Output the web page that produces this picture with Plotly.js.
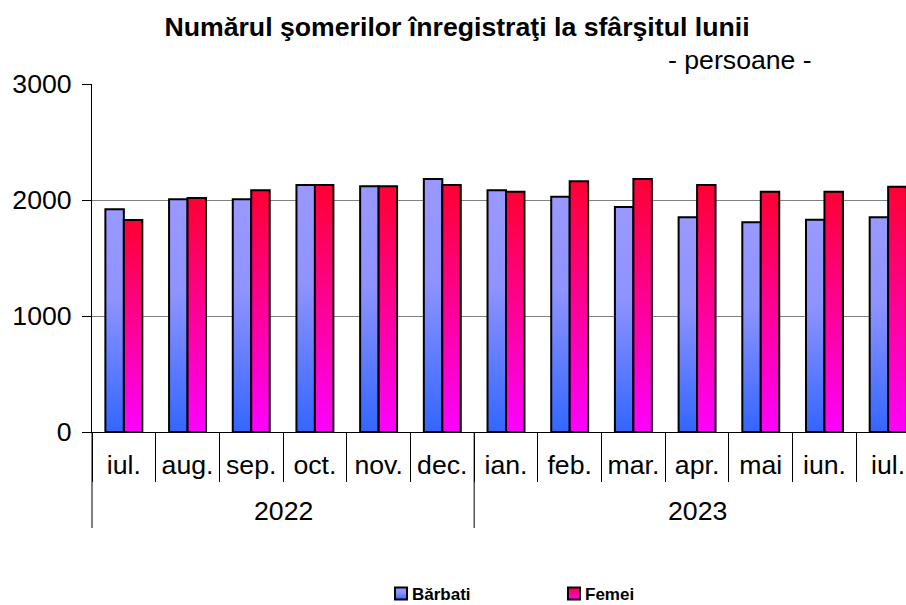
<!DOCTYPE html>
<html><head><meta charset="utf-8">
<script src="https://cdn.plot.ly/plotly-3.0.1.min.js"></script>
<style>
html,body{margin:0;padding:0;overflow:hidden;background:#fff;width:906px;height:605px}
#chart{width:940px;height:605px}
</style>
</head><body><div id="chart"></div>
<script>
// ---- data ----
const months = ['iul.','aug.','sep.','oct.','nov.','dec.','ian.','feb.','mar.','apr.','mai','iun.','iul.'];
const years  = ['2022','2022','2022','2022','2022','2022','2023','2023','2023','2023','2023','2023','2023'];
const barbati = [1920,2006,2006,2129,2118,2181,2084,2028,1940,1851,1808,1830,1851];
const femei   = [1828,2017,2084,2129,2118,2129,2072,2161,2181,2129,2072,2072,2115];
const seriesNames = ['Bărbati','Femei'];
const titleText = 'Numărul şomerilor înregistraţi la sfârşitul lunii';
const subtitleText = '- persoane -';
const yTicks = [0,1000,2000,3000];

const FONT = 'Liberation Sans, Arial, sans-serif';
const N = months.length;
const idx = months.map((_, i) => i);
const bounds = idx.map(i => i - 0.5).concat([N - 0.5]);

// year groups
const groups = [];
years.forEach((y, i) => {
  const g = groups[groups.length - 1];
  if (g && g.year === y) g.end = i; else groups.push({year: y, start: i, end: i});
});

const traces = [
  {type:'bar', name:seriesNames[0], x:idx, y:barbati,
   marker:{color:'#7f8cff', line:{color:'#000', width:2}}},
  {type:'bar', name:seriesNames[1], x:idx, y:femei,
   marker:{color:'#ff0099', line:{color:'#000', width:2}}}
];

const plotTop = 84, plotBottom = 432, plotH = plotBottom - plotTop;
const annotations = [{text:subtitleText, xref:'paper', yref:'paper', x:(740-92)/828, y:(plotBottom-60)/plotH,
                xanchor:'center', yanchor:'middle', showarrow:false, font:{family:FONT, size:26.67, color:'#000'}}];
groups.forEach(g => annotations.push({
  text:g.year, xref:'x', yref:'paper', x:(g.start + g.end)/2, y:-(511-plotBottom)/plotH,
  xanchor:'center', yanchor:'middle', showarrow:false, font:{family:FONT, size:26.67, color:'#000'}
}));
const shapes = [];
const divs = groups.map(g => g.start - 0.5).concat([groups[groups.length-1].end + 0.5]);
divs.forEach(b => shapes.push({type:'line', xref:'paper', yref:'paper',
  x0:(b + 0.5)/N, x1:(b + 0.5)/N, y0:0, y1:-(528-plotBottom)/plotH, line:{color:'#000', width:1}}));

const layout = {
  width:940, height:605,
  margin:{l:92, r:20, t:plotTop, b:605-plotBottom},
  paper_bgcolor:'#fff', plot_bgcolor:'#fff',
  font:{family:FONT, color:'#000', size:26.67},
  barmode:'group', bargap:0.42, bargroupgap:0,
  title:{text:'<b>'+titleText+'</b>', font:{family:FONT, size:26.67, color:'#000'},
         xref:'container', x:457/940, xanchor:'center', yref:'container', y:1-27/605, yanchor:'middle'},
  xaxis:{range:[-0.5, N-0.5], tickmode:'array', tickvals:idx, ticktext:months, ticks:'',
         showline:true, linecolor:'#000', linewidth:1, showgrid:false, zeroline:false, tickangle:0,
         ticklabelstandoff:9,
         minor:{tickmode:'array', tickvals:bounds, ticks:'outside', ticklen:49, tickcolor:'#000', tickwidth:1, showgrid:false},
         tickfont:{family:FONT, size:26.67, color:'#000'}},
  yaxis:{range:[0,3000], tickvals:yTicks, ticks:'outside', ticklen:9, tickcolor:'#000',
         showline:true, linecolor:'#000', linewidth:1, showgrid:true, gridcolor:'#808080', gridwidth:1,
         zeroline:false, ticklabelstandoff:5,
         tickfont:{family:FONT, size:26.67, color:'#000'}},
  showlegend:true,
  legend:{orientation:'h', xref:'container', yref:'container', x:381/940, xanchor:'left', y:1-576/605, yanchor:'top',
          font:{family:FONT, size:17, color:'#000', weight:'bold'}, entrywidth:128, entrywidthmode:'pixels',
          bgcolor:'rgba(0,0,0,0)'},
  annotations:annotations,
  shapes:shapes
};

function applyGradients(gd){
  const svg = gd.querySelector('svg.main-svg');
  if(!svg.querySelector('#customgrads')){
    const defs = document.createElementNS('http://www.w3.org/2000/svg','defs');
    defs.setAttribute('id','customgrads');
    defs.innerHTML =
      '<linearGradient id="gB" x1="0" y1="0" x2="0" y2="1">'+
      '<stop offset="0" stop-color="#9999ff"/><stop offset="0.4" stop-color="#8f93ff"/><stop offset="1" stop-color="#3366ff"/></linearGradient>'+
      '<linearGradient id="gF" x1="0" y1="0" x2="0" y2="1">'+
      '<stop offset="0" stop-color="#ff0033"/><stop offset="1" stop-color="#ff00ff"/></linearGradient>';
    svg.insertBefore(defs, svg.firstChild);
  }
  const ids = ['gB','gF'];
  gd.querySelectorAll('.barlayer .trace').forEach((tr,i)=>{
    tr.querySelectorAll('path').forEach(p=>{p.style.fill='url(#'+ids[i%2]+')';});
  });
  gd.querySelectorAll('.legend .traces').forEach((tr,i)=>{
    tr.querySelectorAll('.legendpoints path').forEach(p=>{p.style.fill='url(#'+ids[i%2]+')';});
    const t = tr.querySelector('text.legendtext');
    if(t) t.setAttribute('x', 31);
  });
}

Plotly.newPlot('chart', traces, layout, {displayModeBar:false, staticPlot:true}).then(applyGradients);
</script>
</body></html>
